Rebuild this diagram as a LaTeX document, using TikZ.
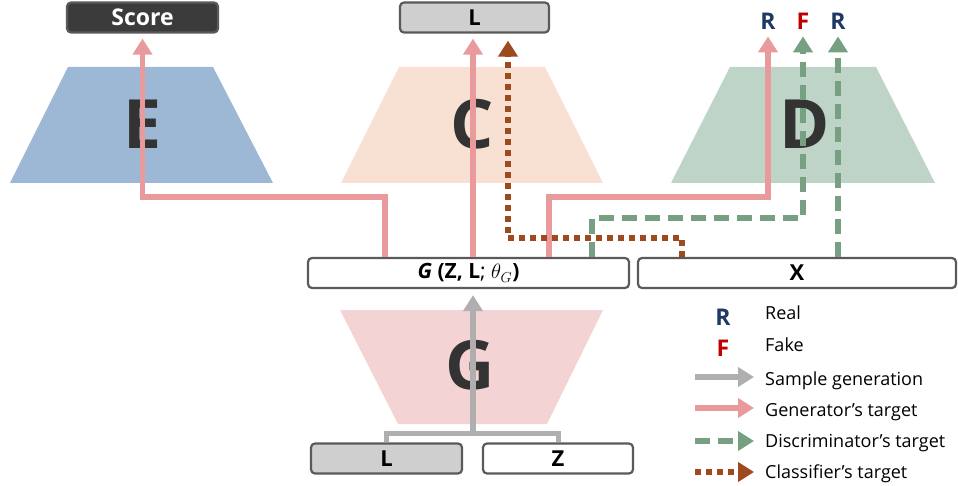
\documentclass[tikz,border=0pt]{standalone}
\usepackage{fontspec}
\setmainfont{Open Sans}
\usetikzlibrary{arrows.meta}
\definecolor{efill}{HTML}{9DB8D4}
\definecolor{cfill}{HTML}{F8E1D3}
\definecolor{dfill}{HTML}{BDD4C6}
\definecolor{gfill}{HTML}{F4D3D5}
\definecolor{genred}{HTML}{E99A9C}
\definecolor{disgreen}{HTML}{77A083}
\definecolor{clsbrown}{HTML}{9C4A1E}
\definecolor{sampgray}{HTML}{B0AEAE}
\definecolor{boxborder}{HTML}{5A5A5A}
\definecolor{boxgray}{HTML}{D0CFCF}
\definecolor{scorefill}{HTML}{3B3B3B}
\definecolor{letter}{HTML}{333333}
\definecolor{realnavy}{HTML}{203864}
\definecolor{fakered}{HTML}{C00000}
\tikzset{
  box/.style={draw=boxborder, line width=2.2pt, rounded corners=4pt, inner sep=0pt,
    minimum height=30pt, text=black, font=\fontsize{22}{22}\selectfont\bfseries},
  bigletter/.style={text=letter, inner sep=0pt, font=\fontsize{68}{68}\selectfont\bfseries},
  rflabel/.style={inner sep=0pt, font=\fontsize{23}{23}\selectfont\bfseries},
  legtext/.style={inner sep=0pt, anchor=base west, text=black, font=\fontsize{18}{18}\selectfont},
  tip/.style={-{Triangle[length=16pt,width=19pt]}},
  gen/.style={draw=genred, line width=5.5pt, tip},
  samp/.style={draw=sampgray, line width=5.5pt, tip},
  sampline/.style={draw=sampgray, line width=5pt},
  dis/.style={draw=disgreen, line width=5.5pt, dash pattern=on 15pt off 8pt, tip},
  cls/.style={draw=clsbrown, line width=5.5pt, dash pattern=on 5.5pt off 5.5pt, tip}
}
\begin{document}
\begin{tikzpicture}[x=1pt,y=-1pt]
\useasboundingbox (0,0) rectangle (958,486);
% trapezoids
\fill[efill] (10,183) -- (68,67) -- (213,67) -- (273,183) -- cycle;
\fill[cfill] (341,183) -- (399,67) -- (545,67) -- (603,183) -- cycle;
\fill[dfill] (671,183) -- (730,67) -- (876,67) -- (935,183) -- cycle;
\fill[gfill] (340,310) -- (603,310) -- (547,424) -- (398,424) -- cycle;
% big letters
\node[bigletter] (eL) at (143,124) {E};
\node[bigletter] (cL) at (472,124) {C};
\node[bigletter] (dL) at (805,124) {D};
\node[bigletter] (gL) at (470,365) {G};
% boxes
\node[box, fill=scorefill, text=white, minimum width=151pt, font=\fontsize{23}{23}\selectfont\bfseries] (score) at (142.5,17.5) {Score};
\node[box, fill=boxgray, minimum width=149pt] (ltop) at (474.5,17.5) {L};
\node[box, fill=white, minimum width=321pt, font=\fontsize{21}{21}\selectfont] (gbox) at (468.5,273)
  {{\bfseries\itshape G} {\bfseries (Z, L}; $\theta_G$\textbf{)}};
\node[box, fill=white, minimum width=318pt] (xbox) at (797,273) {X};
\node[box, fill=boxgray, minimum width=151pt] (lbot) at (386.5,458.5) {L};
\node[box, fill=white, minimum width=150pt] (zbox) at (558,458.5) {Z};
% R F R labels
\node[rflabel, text=realnavy] (r1) at (768,21) {R};
\node[rflabel, text=fakered] (f1) at (803,21) {F};
\node[rflabel, text=realnavy] (r2) at (838,21) {R};
% helper coordinates
\coordinate (ra) at (385,197);
\coordinate (cx) at (473,0);
\coordinate (rb) at (549,197);
\coordinate (ga) at (592,218);
\coordinate (ba) at (682,238);
\coordinate (bb) at (508,0);
\coordinate (jn) at (473,433);
% generator's target
\draw[gen, shorten >=5pt] (gbox.north -| ra) -- (ra) -- (ra -| score.south) -- (score.south);
\draw[gen, shorten >=5pt] (gbox.north -| cx) -- (ltop.south -| cx);
\draw[gen, shorten >=7pt] (gbox.north -| rb) -- (rb) -- (rb -| r1.south) -- (r1.south);
% discriminator's target
\draw[dis, shorten >=7pt] (gbox.north -| ga) -- (ga) -- (ga -| f1.south) -- (f1.south);
\draw[dis, shorten >=7pt] (xbox.north -| r2.south) -- (r2.south);
% classifier's target
\draw[cls, shorten >=7pt] (xbox.north -| ba) -- (ba) -- (ba -| bb) -- (ltop.south -| bb);
% sample generation
\draw[sampline] (lbot.north) |- (jn) -| (zbox.north);
\draw[samp, shorten >=6pt] (jn) -- (gbox.south -| jn);
% legend
\node[rflabel, text=realnavy] (lgR) at (723,317) {R};
\node[rflabel, text=fakered] (lgF) at (723,348) {F};
\node[legtext] (t1) at (765,319) {Real};
\node[legtext] (t2) at (765,351) {Fake};
\node[legtext] (t3) at (765,385) {Sample generation};
\node[legtext] (t4) at (765,416) {Generator’s target};
\node[legtext] (t5) at (765,447) {Discriminator’s target};
\node[legtext] (t6) at (765,478) {Classifier’s target};
\coordinate (a3) at (695,377);
\coordinate (a4) at (695,408);
\coordinate (a5) at (695,441);
\coordinate (a6) at (695,472);
\draw[samp, shorten >=11pt] (a3) -- (a3 -| t3.west);
\draw[gen, shorten >=11pt] (a4) -- (a4 -| t4.west);
\draw[dis, shorten >=11pt] (a5) -- (a5 -| t5.west);
\draw[cls, shorten >=11pt] (a6) -- (a6 -| t6.west);
\end{tikzpicture}
\end{document}
